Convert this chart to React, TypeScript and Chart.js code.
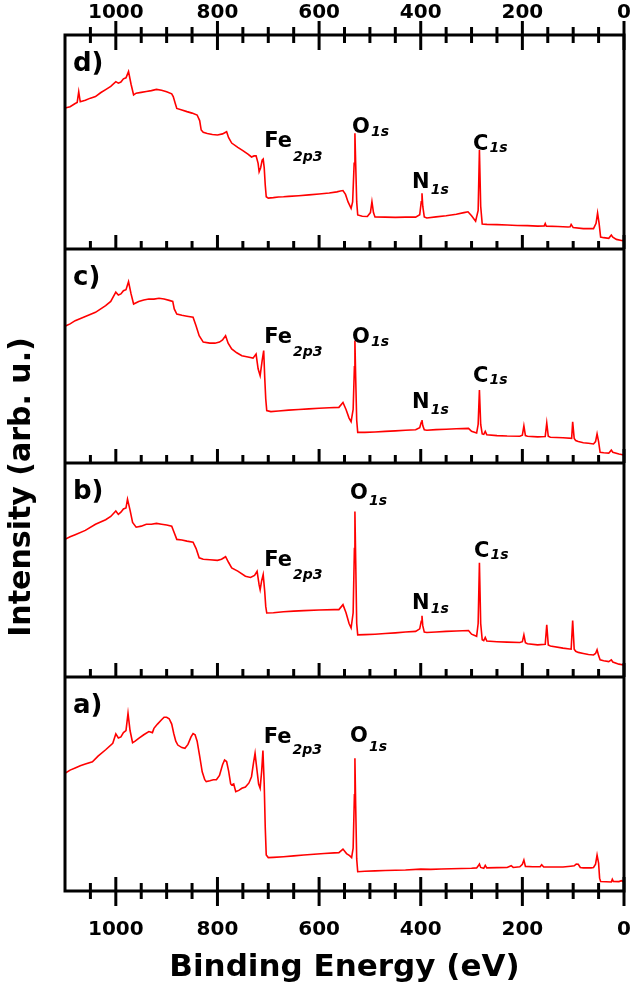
import React, { useEffect, useRef } from 'react';
import { Chart, registerables } from 'chart.js';

Chart.register(...registerables);

const FONT = '"DejaVu Sans", "Liberation Sans", Arial, sans-serif';
const RED = '#ff0000';

// Binding energies (eV) and intensities (arb. u., 0-100 within each panel)
const E_D = [1100, 1090, 1080, 1076, 1073, 1070, 1060, 1050, 1040, 1030, 1020, 1010, 1000, 995, 990, 985, 980, 975, 970, 965, 960, 950, 940, 930, 920, 910, 900, 890, 887, 883, 880, 870, 860, 850, 840, 835, 832, 828, 820, 810, 800, 790, 782, 778, 772, 760, 750, 740, 733, 728, 724, 720, 718, 715, 712, 710, 708, 706, 704, 700, 690, 680, 670, 660, 640, 620, 600, 580, 565, 558, 553, 548, 543, 537, 534, 531, 529.5, 528, 526, 524, 515, 505, 499, 496, 493, 490, 470, 450, 430, 410, 402, 399, 397.5, 396, 393, 388, 370, 350, 330, 315, 307, 300, 292, 287, 284.5, 282, 279, 270, 250, 230, 210, 190, 170, 157, 155, 153, 130, 110, 106, 104, 100, 80, 60, 55, 52, 49, 46, 40, 30, 25, 22, 15, 5, 0];
const I_D = [65.9, 66.5, 68.0, 68.5, 73.5, 68.8, 69.5, 70.5, 71.2, 73.0, 74.5, 76.0, 78.2, 77.5, 78.0, 79.5, 80.0, 82.9, 77.0, 72.0, 72.8, 73.2, 73.6, 74.0, 74.6, 74.2, 73.5, 72.5, 71.2, 68.0, 65.7, 65.0, 64.2, 63.5, 62.6, 60.0, 55.6, 54.5, 54.0, 53.5, 53.3, 53.8, 54.8, 52.0, 49.5, 47.5, 46.0, 44.3, 43.0, 43.5, 43.5, 40.0, 36.1, 38.0, 41.5, 42.0, 38.0, 30.0, 24.4, 23.8, 24.0, 24.3, 24.4, 24.6, 24.9, 25.3, 25.7, 26.2, 26.7, 27.1, 27.3, 25.5, 22.0, 19.0, 22.0, 40.0, 54.1, 40.0, 22.0, 15.9, 15.3, 15.2, 17.0, 22.1, 17.0, 15.0, 14.9, 14.8, 14.9, 14.9, 16.0, 22.0, 26.0, 20.0, 15.0, 14.5, 15.0, 15.5, 16.2, 17.0, 17.4, 15.5, 13.0, 18.0, 46.3, 20.0, 11.7, 11.5, 11.4, 11.2, 11.0, 10.9, 10.7, 10.8, 11.9, 10.7, 10.5, 10.3, 10.4, 11.5, 10.0, 9.5, 9.5, 12.0, 16.8, 12.0, 5.6, 5.3, 5.0, 6.5, 5.5, 4.5, 4.0, 3.9];

const E_C = [1100, 1090, 1080, 1060, 1040, 1020, 1010, 1000, 995, 990, 985, 980, 975, 970, 965, 955, 945, 935, 925, 915, 905, 895, 888, 885, 880, 870, 860, 848, 842, 836, 828, 815, 805, 796, 790, 784, 779, 772, 762, 752, 740, 730, 724, 720, 716, 712, 709, 707, 705, 703, 695, 680, 660, 640, 620, 600, 580, 561, 553, 547, 541, 537, 533, 530.5, 529.5, 528, 526, 524, 510, 490, 470, 450, 430, 410, 402, 399, 397.5, 396, 393, 388, 370, 350, 330, 306, 300, 290, 287, 284.5, 282, 279, 276, 273, 270, 250, 230, 205, 200, 197, 194, 190, 170, 155, 152, 149, 145, 120, 103, 101, 98, 95, 90, 80, 70, 60, 56, 53, 50, 47, 40, 30, 25, 22, 10, 0];
const I_C = [63.9, 65.0, 66.5, 68.5, 70.4, 73.5, 75.5, 79.8, 78.5, 79.0, 80.5, 81.0, 84.7, 79.0, 74.3, 75.5, 76.2, 76.6, 76.6, 77.0, 76.6, 76.0, 75.5, 72.0, 69.6, 69.0, 68.6, 68.1, 64.0, 59.5, 56.5, 56.0, 56.0, 56.5, 57.5, 59.5, 56.0, 53.3, 51.5, 50.1, 49.5, 49.0, 50.9, 44.0, 40.8, 48.0, 52.5, 40.0, 30.0, 24.5, 24.0, 24.3, 24.7, 25.0, 25.3, 25.6, 25.8, 26.0, 28.3, 25.0, 21.0, 19.3, 25.0, 45.0, 57.2, 40.0, 20.0, 14.3, 14.3, 14.5, 14.8, 15.0, 15.3, 15.5, 16.5, 19.0, 20.1, 17.5, 15.5, 15.3, 15.6, 15.8, 16.0, 16.2, 14.8, 14.0, 18.0, 34.1, 18.0, 13.6, 13.4, 14.8, 13.2, 12.8, 12.6, 12.5, 13.0, 17.4, 12.8, 12.5, 12.2, 12.4, 18.7, 12.5, 12.0, 11.8, 11.5, 19.3, 11.5, 10.5, 10.0, 9.5, 9.2, 8.9, 10.0, 13.6, 10.0, 5.0, 4.8, 4.6, 6.0, 5.0, 4.2, 3.7];

const E_B = [1100, 1090, 1080, 1060, 1040, 1020, 1010, 1000, 995, 990, 985, 980, 977, 972, 967, 960, 950, 940, 930, 920, 910, 900, 890, 886, 880, 870, 860, 848, 842, 836, 828, 815, 800, 792, 784, 778, 772, 760, 745, 735, 727, 722, 718, 716, 713, 710, 707, 705, 703, 690, 670, 650, 630, 600, 570, 561, 553, 547, 541, 537, 533, 530.5, 529.5, 528, 526, 524, 510, 490, 470, 450, 430, 410, 402, 399, 397.5, 396, 393, 388, 370, 350, 330, 306, 300, 290, 287, 284.5, 282, 279, 276, 273, 270, 250, 230, 205, 200, 197, 194, 190, 170, 155, 152, 149, 145, 120, 104, 101, 98, 95, 90, 80, 70, 60, 56, 53, 50, 47, 40, 30, 25, 22, 10, 0];
const I_B = [64.3, 65.5, 66.5, 68.5, 71.4, 73.5, 75.0, 77.6, 76.0, 77.0, 78.5, 79.0, 83.1, 78.0, 72.2, 70.0, 70.5, 71.4, 71.4, 71.8, 71.4, 71.0, 70.5, 68.0, 64.3, 64.0, 63.5, 63.0, 60.0, 55.7, 55.0, 54.8, 54.5, 55.0, 56.2, 53.5, 51.0, 49.5, 47.1, 46.5, 47.5, 49.4, 43.0, 40.8, 45.0, 47.9, 40.0, 33.0, 29.9, 30.0, 30.5, 30.8, 31.0, 31.3, 31.5, 31.5, 33.8, 30.0, 25.0, 22.9, 30.0, 60.0, 77.3, 55.0, 25.0, 19.7, 19.8, 20.0, 20.3, 20.6, 21.0, 21.3, 22.5, 26.0, 28.6, 24.0, 21.0, 20.8, 21.0, 21.3, 21.5, 21.7, 20.0, 19.0, 25.0, 53.4, 25.0, 17.4, 17.0, 18.5, 16.8, 16.5, 16.3, 16.1, 16.5, 19.7, 16.0, 15.5, 15.0, 15.3, 24.4, 15.0, 14.5, 13.5, 13.0, 26.4, 13.0, 12.0, 11.5, 11.0, 10.5, 10.3, 11.0, 12.7, 10.0, 8.0, 7.6, 7.2, 8.0, 7.0, 6.0, 5.6];

const E_A = [1100, 1090, 1080, 1070, 1060, 1046, 1035, 1020, 1006, 1000, 995, 990, 985, 980, 976, 972, 967, 962, 955, 945, 935, 928, 925, 918, 910, 905, 900, 895, 890, 886, 882, 878, 870, 864, 858, 852, 848, 844, 840, 835, 830, 825, 822, 815, 808, 802, 796, 790, 786, 782, 778, 774, 772, 768, 764, 758, 752, 745, 738, 733, 729, 726, 723, 719, 716, 713, 710.5, 708, 706, 704, 700, 690, 670, 650, 630, 610, 590, 570, 561, 553, 546, 540, 536, 533, 530.5, 529.5, 528, 526, 524, 510, 490, 470, 450, 430, 400, 380, 360, 340, 320, 300, 290, 286, 284.5, 282, 276, 273, 270, 250, 230, 222, 218, 205, 200, 197, 194, 180, 165, 162, 158, 140, 120, 105, 98, 94, 90, 86, 80, 65, 60, 56, 53, 50, 48, 46, 35, 25, 23, 21, 10, 5, 0];
const I_A = [55.0, 56.5, 57.5, 58.5, 59.3, 60.4, 63.0, 66.0, 69.0, 73.4, 71.5, 72.0, 74.0, 75.0, 83.0, 75.0, 69.3, 70.0, 71.3, 73.0, 74.5, 74.0, 76.0, 78.0, 80.0, 81.2, 81.2, 80.5, 78.0, 73.6, 70.0, 68.2, 67.0, 66.7, 68.5, 72.0, 73.6, 73.0, 70.0, 63.0, 55.7, 52.0, 51.1, 51.5, 52.0, 52.0, 54.0, 59.0, 61.2, 60.5, 56.0, 50.0, 49.5, 50.0, 46.4, 47.0, 48.0, 48.6, 50.5, 53.4, 60.0, 64.3, 58.0, 50.0, 48.0, 56.0, 65.6, 50.0, 30.0, 16.8, 15.6, 15.7, 16.0, 16.4, 16.8, 17.2, 17.5, 17.8, 17.9, 19.6, 17.5, 16.5, 15.6, 20.0, 45.0, 62.0, 40.0, 15.0, 9.0, 9.2, 9.4, 9.6, 9.7, 9.8, 10.2, 10.1, 10.3, 10.4, 10.5, 10.6, 10.8, 12.0, 12.6, 11.0, 10.6, 12.0, 10.8, 10.9, 11.0, 11.8, 11.0, 11.3, 12.5, 14.5, 11.5, 11.3, 11.3, 12.3, 11.2, 11.2, 11.2, 11.6, 11.8, 12.6, 12.5, 11.0, 10.8, 10.8, 11.0, 12.5, 16.8, 13.0, 6.0, 4.4, 4.3, 4.2, 5.5, 4.5, 4.4, 4.8, 4.2];

const MAJOR_TICKS = [0, 200, 400, 600, 800, 1000];
const MINOR_TICKS = [50, 100, 150, 250, 300, 350, 450, 500, 550, 650, 700, 750, 850, 900, 950, 1050];

const PANEL_IDS = ['ya', 'yb', 'yc', 'yd'];
const PANEL_NAMES = ['a)', 'b)', 'c)', 'd)'];

// Peak annotations: panel, element, subscript, energy of text start, intensity of baseline, subscript drop (px)
const PEAK_LABELS = [
  { panel: 'yd', main: 'Fe', sub: '2p3', e: 708, v: 47.7, dy: 14 },
  { panel: 'yd', main: 'O', sub: '1s', e: 535, v: 54.2, dy: 3 },
  { panel: 'yd', main: 'N', sub: '1s', e: 417, v: 28.5, dy: 6 },
  { panel: 'yd', main: 'C', sub: '1s', e: 297, v: 46.3, dy: 2 },
  { panel: 'yc', main: 'Fe', sub: '2p3', e: 708, v: 56.1, dy: 13 },
  { panel: 'yc', main: 'O', sub: '1s', e: 535, v: 56.1, dy: 3 },
  { panel: 'yc', main: 'N', sub: '1s', e: 417, v: 25.7, dy: 6 },
  { panel: 'yc', main: 'C', sub: '1s', e: 297, v: 37.9, dy: 2 },
  { panel: 'yb', main: 'O', sub: '1s', e: 539, v: 83.2, dy: 6 },
  { panel: 'yb', main: 'C', sub: '1s', e: 295, v: 56.1, dy: 2 },
  { panel: 'yb', main: 'Fe', sub: '2p3', e: 708, v: 51.9, dy: 13 },
  { panel: 'yb', main: 'N', sub: '1s', e: 417, v: 31.8, dy: 4 },
  { panel: 'ya', main: 'Fe', sub: '2p3', e: 709, v: 69.2, dy: 11 },
  { panel: 'ya', main: 'O', sub: '1s', e: 539, v: 69.6, dy: 9 },
];

const framePlugin = {
  id: 'framePlugin',
  afterDraw(chart: any) {
    const ctx = chart.ctx;
    const xs = chart.scales.x;
    const { left, right, top, bottom } = chart.chartArea;
    ctx.save();
    ctx.strokeStyle = '#000';
    ctx.fillStyle = '#000';
    ctx.lineWidth = 3;
    ctx.lineCap = 'butt';
    ctx.strokeRect(left, top, right - left, bottom - top);
    const inner = ['yd', 'yc', 'yb'].map((id) => chart.scales[id].getPixelForValue(0));
    inner.forEach((y) => {
      ctx.beginPath();
      ctx.moveTo(left, y);
      ctx.lineTo(right, y);
      ctx.stroke();
    });
    const drawTicks = (vals: number[], y: number, up: number, down: number) => {
      vals.forEach((v) => {
        const x = xs.getPixelForValue(v);
        ctx.beginPath();
        ctx.moveTo(x, y - up);
        ctx.lineTo(x, y + down);
        ctx.stroke();
      });
    };
    drawTicks(MAJOR_TICKS, top, 14, 15);
    drawTicks(MINOR_TICKS, top, 8, 8);
    drawTicks(MAJOR_TICKS, bottom, 14, 15);
    drawTicks(MINOR_TICKS, bottom, 8, 8);
    inner.forEach((y) => {
      drawTicks(MAJOR_TICKS, y, 14, 0);
      drawTicks(MINOR_TICKS, y, 8, 0);
    });

    // panel letters
    ctx.textAlign = 'left';
    ctx.textBaseline = 'alphabetic';
    ctx.font = `bold 26px ${FONT}`;
    PANEL_IDS.forEach((id, i) => {
      const yTop = chart.scales[id].getPixelForValue(100);
      ctx.fillText(PANEL_NAMES[i], left + 8, yTop + 36);
    });

    // peak labels
    PEAK_LABELS.forEach((l) => {
      const x = xs.getPixelForValue(l.e);
      const y = chart.scales[l.panel].getPixelForValue(l.v);
      ctx.font = `bold 21px ${FONT}`;
      ctx.fillText(l.main, x, y);
      const w = ctx.measureText(l.main).width;
      ctx.font = `italic bold 14px ${FONT}`;
      ctx.fillText(l.sub, x + w + 1, y + l.dy);
    });

    // y title
    ctx.save();
    ctx.translate(22, 487);
    ctx.rotate(-Math.PI / 2);
    ctx.textAlign = 'center';
    ctx.textBaseline = 'middle';
    ctx.font = `bold 30px ${FONT}`;
    ctx.fillText('Intensity (arb. u.)', 0, 0);
    ctx.restore();
    ctx.restore();
  },
};

const tickFont = { family: FONT, weight: 'bold' as const, size: 20 };
const tickLabel = (v: any) => String(v);

export default function App() {
  const ref = useRef<HTMLCanvasElement>(null);
  useEffect(() => {
    if (!ref.current) return;
    const series = [
      [E_A, I_A, 'ya'],
      [E_B, I_B, 'yb'],
      [E_C, I_C, 'yc'],
      [E_D, I_D, 'yd'],
    ] as [number[], number[], string][];
    const datasets = series.map(([E, I, id]) => ({
      data: E.map((e, i) => ({ x: e, y: I[i] })),
      xAxisID: 'x',
      yAxisID: id,
      borderColor: RED,
      borderWidth: 1.6,
      pointRadius: 0,
      tension: 0,
      fill: false,
    }));
    const xCommon = {
      type: 'linear' as const,
      min: 0,
      max: 1100,
      reverse: true,
      grid: { display: false, drawTicks: false, tickLength: 0 },
      border: { display: false },
    };
    const chart = new Chart(ref.current, {
      type: 'line',
      data: { datasets },
      plugins: [framePlugin],
      options: {
        animation: false,
        responsive: true,
        maintainAspectRatio: false,
        layout: { padding: { left: 65, right: 9, top: 0, bottom: 0 } },
        plugins: { legend: { display: false }, tooltip: { enabled: false } },
        scales: {
          x: {
            ...xCommon,
            position: 'bottom',
            ticks: { stepSize: 200, includeBounds: false, padding: 27, color: '#000', font: tickFont, maxRotation: 0, autoSkip: false, callback: tickLabel },
            title: { display: true, text: 'Binding Energy (eV)', color: '#000', font: { family: FONT, weight: 'bold', size: 31 }, padding: { top: 0, bottom: 8 } },
            afterFit: (s: any) => { s.height = 104; s.paddingLeft = 0; s.paddingRight = 0; },
          },
          x2: {
            ...xCommon,
            position: 'top',
            ticks: { stepSize: 200, includeBounds: false, padding: 10, color: '#000', font: tickFont, maxRotation: 0, autoSkip: false, callback: tickLabel },
            afterFit: (s: any) => { s.height = 35; s.paddingLeft = 0; s.paddingRight = 0; },
          },
          ya: { type: 'linear', display: false, min: 0, max: 400 },
          yb: { type: 'linear', display: false, min: -100, max: 300 },
          yc: { type: 'linear', display: false, min: -200, max: 200 },
          yd: { type: 'linear', display: false, min: -300, max: 100 },
        },
      } as any,
    });
    return () => chart.destroy();
  }, []);
  return (
    <div style={{ position: 'fixed', left: 0, top: 0, width: 633, height: 995, background: '#fff' }}>
      <canvas ref={ref} />
    </div>
  );
}
